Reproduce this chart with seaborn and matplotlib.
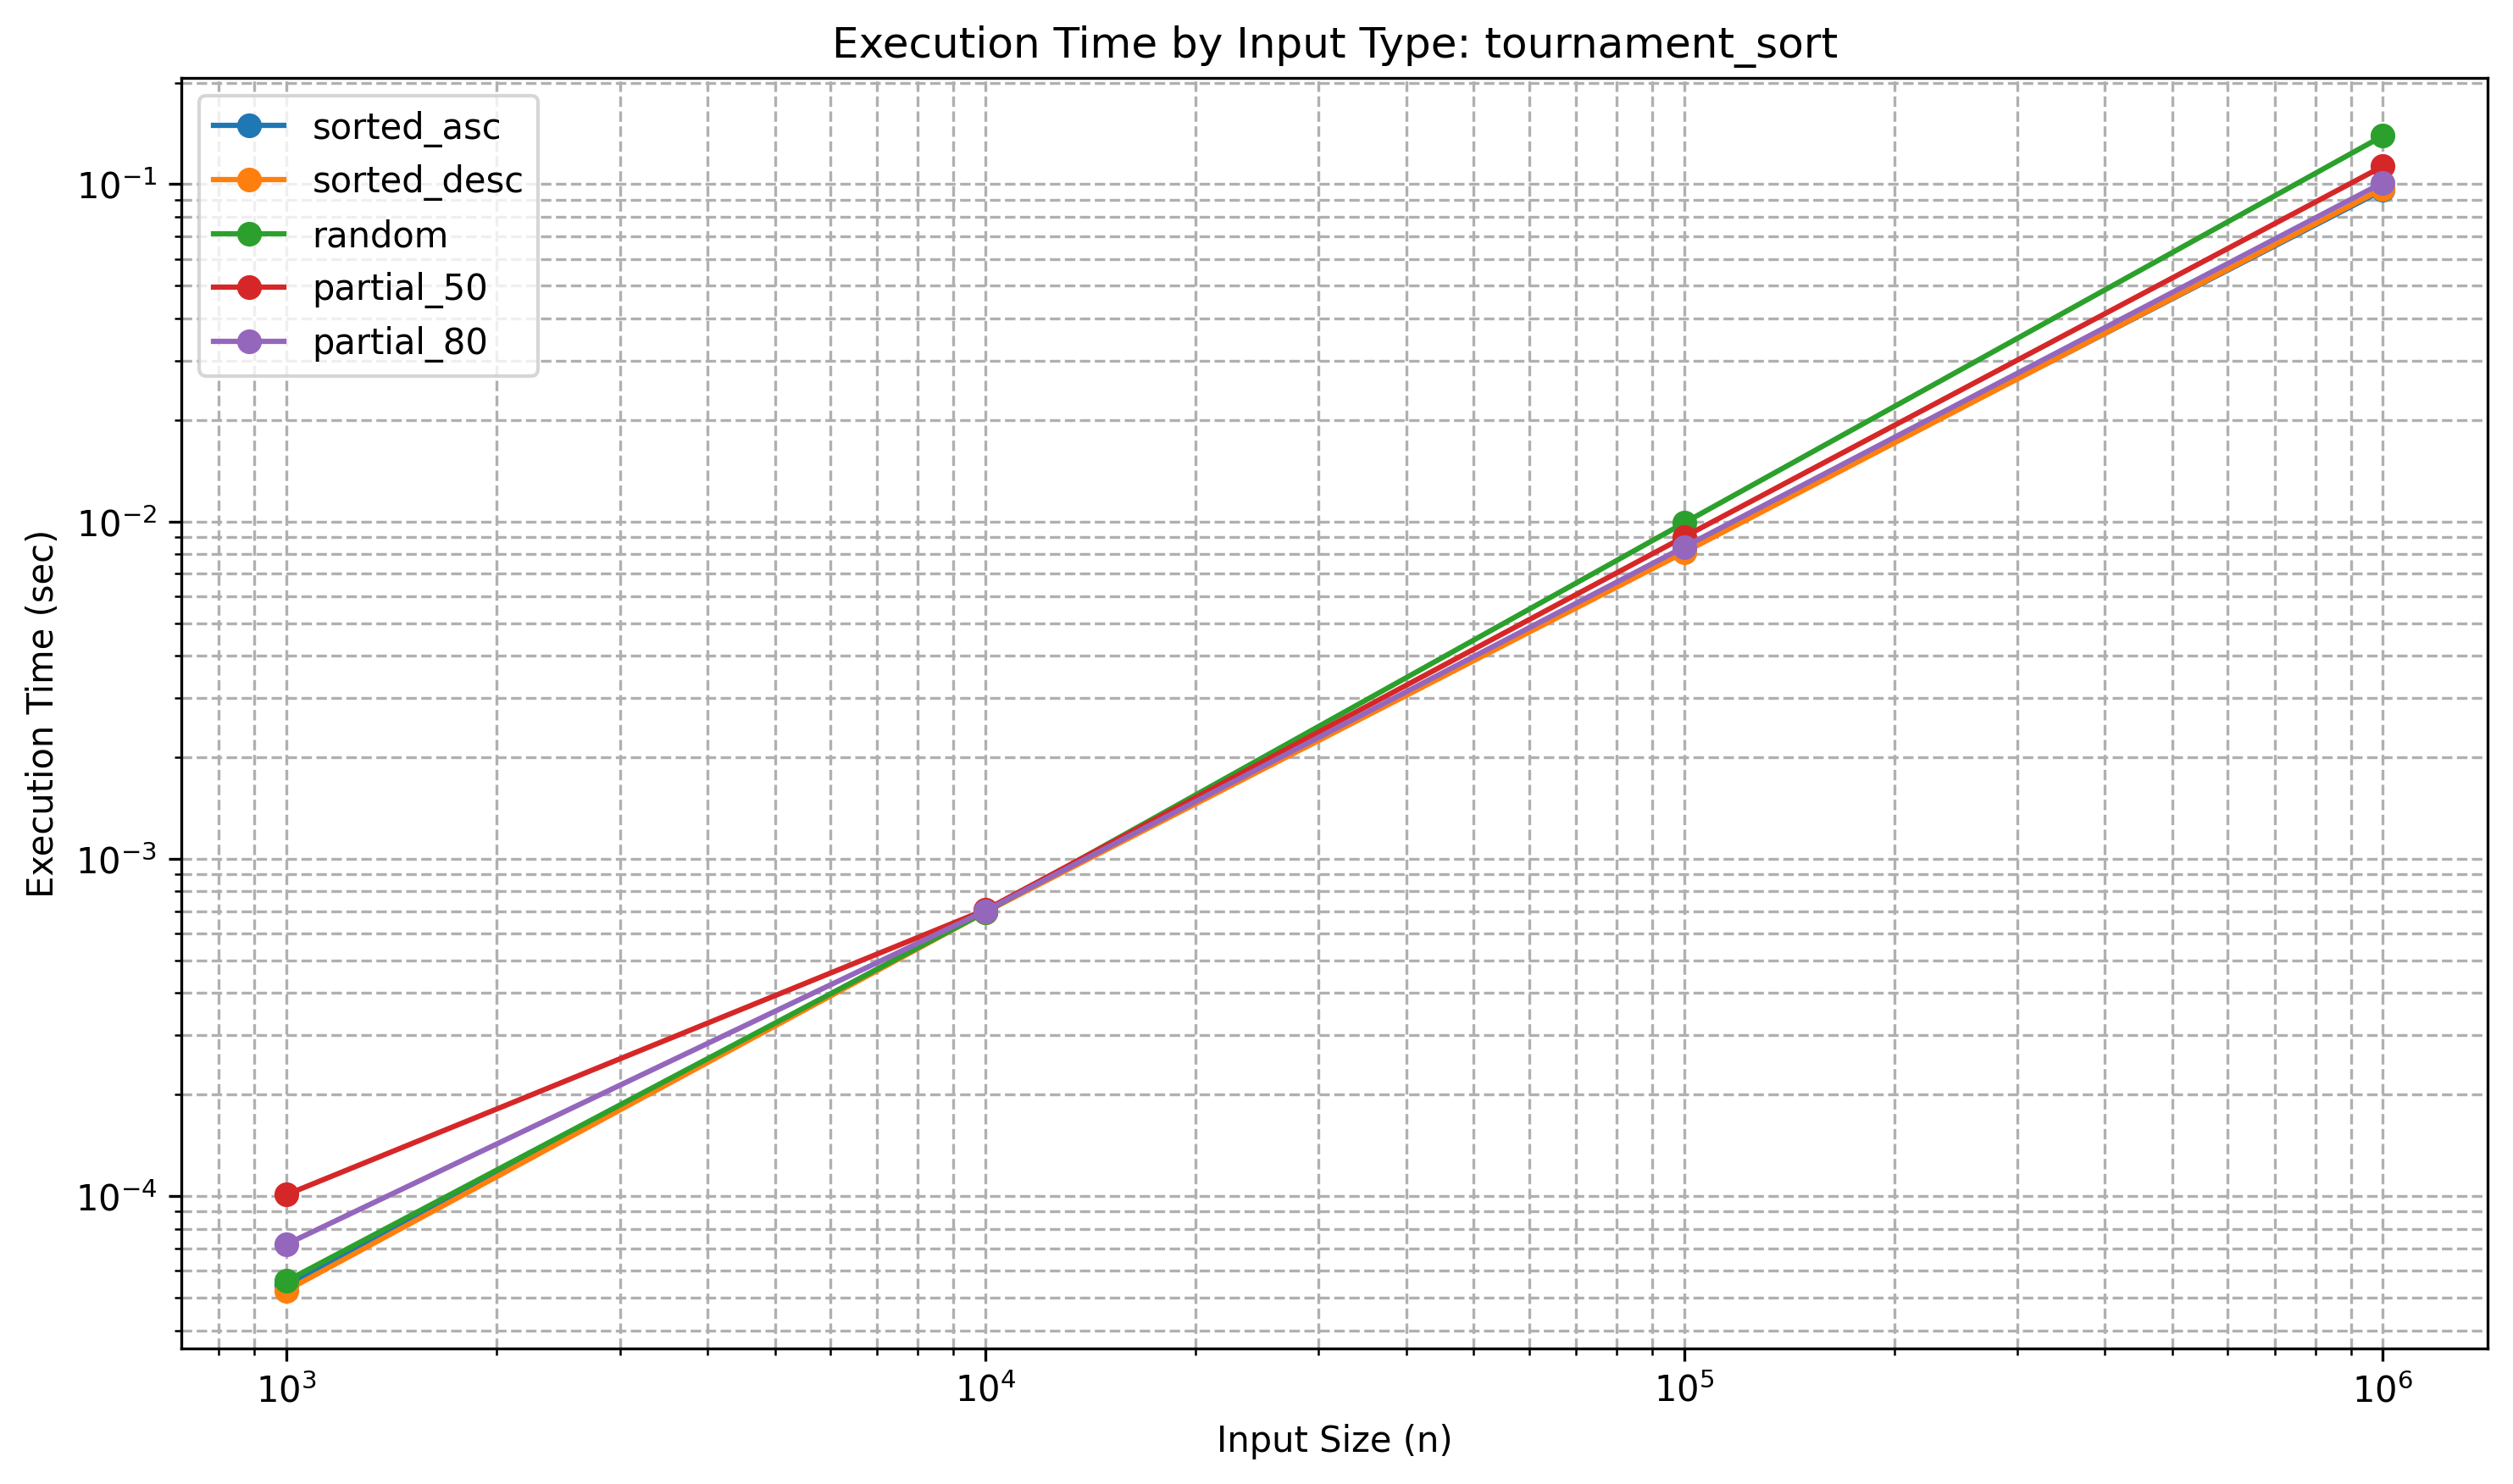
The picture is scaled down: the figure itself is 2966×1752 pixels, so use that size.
import matplotlib

matplotlib.use("Agg")
import matplotlib.pyplot as plt
import pandas as pd
import seaborn as sns


SIZES = [1000, 10000, 100000, 1000000]

SORTED_ASC = [5.45e-5, 6.98e-4, 8.2e-3, 0.096]
SORTED_DESC = [5.25e-5, 6.95e-4, 8.1e-3, 0.097]
RANDOM = [5.6e-5, 6.95e-4, 9.9e-3, 0.139]
PARTIAL_50 = [1.01e-4, 7.05e-4, 9.0e-3, 0.113]
PARTIAL_80 = [7.2e-5, 7.0e-4, 8.4e-3, 0.101]

INPUT_TYPES = ["sorted_asc", "sorted_desc", "random", "partial_50", "partial_80"]
SERIES = [SORTED_ASC, SORTED_DESC, RANDOM, PARTIAL_50, PARTIAL_80]


def build_frame() -> pd.DataFrame:
    rows = []
    for name, values in zip(INPUT_TYPES, SERIES):
        for n, t in zip(SIZES, values):
            rows.append({"input_type": name, "n": n, "time": t})
    return pd.DataFrame(rows)


def main() -> None:
    df = build_frame()

    fig, ax = plt.subplots(figsize=(10, 6))

    sns.lineplot(
        data=df,
        x="n",
        y="time",
        hue="input_type",
        hue_order=INPUT_TYPES,
        palette="tab10",
        marker="o",
        markersize=6,
        markeredgewidth=1.0,
        markeredgecolor="auto",
        linewidth=1.5,
        ax=ax,
    )

    ax.set_xscale("log")
    ax.set_yscale("log")
    ax.grid(True, which="both", linestyle="--", linewidth=0.8, color="#b0b0b0")

    ax.set_title("Execution Time by Input Type: tournament_sort")
    ax.set_xlabel("Input Size (n)")
    ax.set_ylabel("Execution Time (sec)")
    ax.legend(loc="upper left")

    fig.tight_layout()
    fig.savefig("out.png", dpi=300, bbox_inches="tight")
    plt.close(fig)


if __name__ == "__main__":
    main()
